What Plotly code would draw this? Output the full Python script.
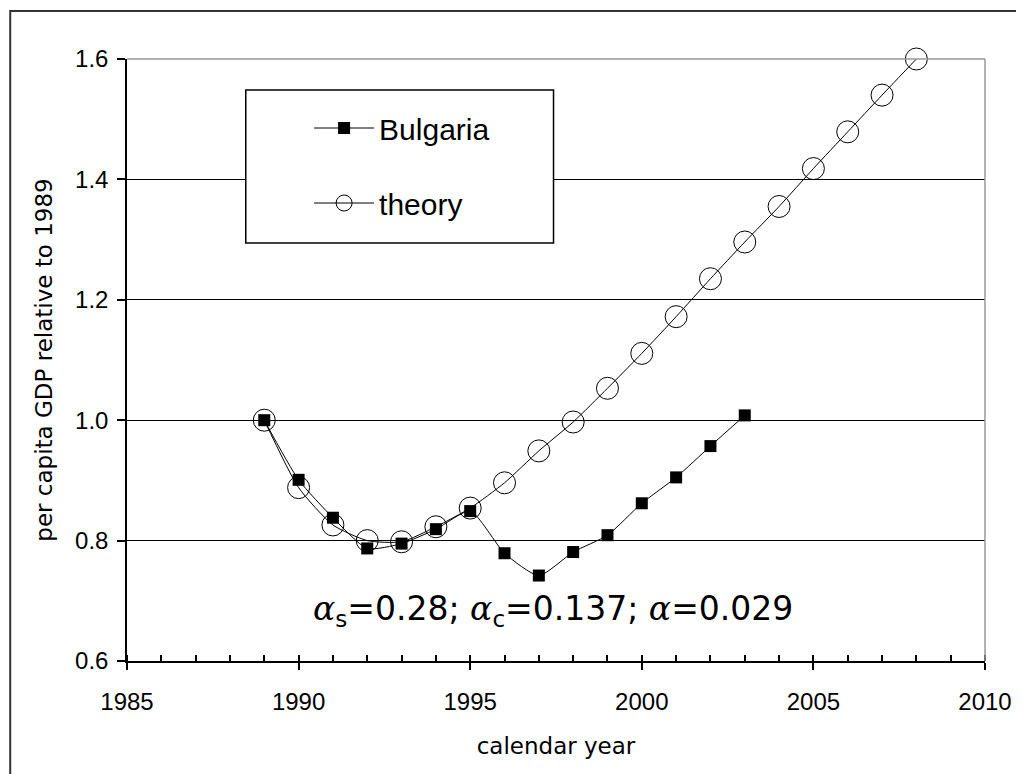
import plotly.graph_objects as go

# ---- data ----
years_bg = [1989, 1990, 1991, 1992, 1993, 1994, 1995, 1996, 1997, 1998, 1999, 2000, 2001, 2002, 2003]
gdp_bg = [1.000, 0.901, 0.838, 0.787, 0.795, 0.819, 0.849, 0.779, 0.742, 0.781, 0.809, 0.862, 0.905, 0.957, 1.008]

years_th = [1989, 1990, 1991, 1992, 1993, 1994, 1995, 1996, 1997, 1998, 1999, 2000,
            2001, 2002, 2003, 2004, 2005, 2006, 2007, 2008]
gdp_th = [1.000, 0.888, 0.826, 0.800, 0.798, 0.823, 0.854, 0.896, 0.949, 0.997, 1.053, 1.111,
          1.172, 1.235, 1.296, 1.355, 1.418, 1.479, 1.540, 1.600]

x_range = [1985, 2010]
y_range = [0.6, 1.6]
y_ticks = [0.6, 0.8, 1.0, 1.2, 1.4, 1.6]

FONT = "Liberation Sans, Arial, sans-serif"
WIDE = "DejaVu Sans, Liberation Sans, sans-serif"

fig = go.Figure()

fig.add_trace(go.Scatter(
    x=years_th, y=gdp_th, name="theory", mode="lines+markers",
    line=dict(color="black", width=1, shape="spline", smoothing=0.6),
    marker=dict(symbol="circle-open", size=22, color="black", line=dict(width=1, color="black")),
    legendgroup="th", legendrank=2, cliponaxis=False,
))
fig.add_trace(go.Scatter(
    x=years_bg, y=gdp_bg, name="Bulgaria", mode="lines+markers",
    line=dict(color="black", width=1, shape="spline", smoothing=0.6),
    marker=dict(symbol="square", size=12, color="black"),
    legendgroup="bg", legendrank=1, cliponaxis=False,
))

# page has an 8px body margin: figure pixel = reference pixel - 8
OFF = 8
W, H = 1024 - OFF, 774 - OFF
L, R, T, B = 127, 994, 59, 661          # plot area in reference pixels
def px(xr):
    return (xr - L) / (R - L)
def py(yr):
    return (B - yr) / (B - T)

fig.update_layout(
    width=W, height=H,
    margin=dict(l=L - OFF, r=W - (R - OFF), t=T - OFF, b=H - (B - OFF), pad=0),
    paper_bgcolor="white", plot_bgcolor="white",
    font=dict(family=FONT, color="black", size=22),
    showlegend=True,
    legend=dict(
        x=px(311), y=py(102), xanchor="left", yanchor="top",
        bgcolor="rgba(0,0,0,0)", borderwidth=0,
        font=dict(size=30, family=FONT, color="black"),
        itemwidth=60, tracegroupgap=33,
    ),
    xaxis=dict(
        range=x_range, tick0=1985, dtick=5, showgrid=False, zeroline=False,
        showline=True, linecolor="black", linewidth=1.5,
        ticks="outside", ticklen=7, tickwidth=1.5, tickcolor="black",
        minor=dict(dtick=1, ticks="inside", ticklen=6, tickcolor="black", tickwidth=1.5),
        tickfont=dict(size=24, family=FONT),
        ticklabelstandoff=11,
        title=dict(text="calendar year", font=dict(size=23, family=WIDE), standoff=24),
    ),
    xaxis2=dict(
        range=x_range, tick0=1985, dtick=5, overlaying="x", anchor="y",
        showgrid=False, zeroline=False, showline=False, showticklabels=False,
        ticks="inside", ticklen=7, tickwidth=1.5, tickcolor="black",
    ),
    yaxis=dict(
        range=y_range, tickvals=y_ticks, tickformat=".1f",
        showgrid=True, gridcolor="black", gridwidth=1.2, zeroline=False,
        showline=True, linecolor="black", linewidth=1.5,
        ticks="outside", ticklen=8, tickwidth=1.5, tickcolor="black",
        ticklabelstandoff=4,
        tickfont=dict(size=24, family=FONT),
        title=dict(text="per capita GDP relative to 1989", font=dict(size=23, family=WIDE), standoff=16),
    ),
    shapes=[
        # gray plot-area border (top, right)
        dict(type="line", xref="paper", yref="paper", x0=0, x1=1, y0=1, y1=1,
             line=dict(color="#999999", width=1.5), layer="above"),
        dict(type="line", xref="paper", yref="paper", x0=1, x1=1, y0=0, y1=1,
             line=dict(color="#999999", width=1.5), layer="above"),
        # legend box
        dict(type="rect", xref="paper", yref="paper", x0=px(247), x1=px(558), y0=py(243), y1=py(90),
             line=dict(color="black", width=1.5), fillcolor="white", layer="above"),
        # outer chart border
        dict(type="rect", xref="paper", yref="paper", x0=px(9), x1=px(1040), y0=py(790), y1=py(11),
             line=dict(color="#333333", width=2), fillcolor="rgba(0,0,0,0)", layer="above"),
    ],
    annotations=[
        dict(text=("<span style=\"font-family:'DejaVu Serif'\"><i>α</i></span><sub>s</sub>=0.28; "
                   "<span style=\"font-family:'DejaVu Serif'\"><i>α</i></span><sub>c</sub>=0.137; "
                   "<span style=\"font-family:'DejaVu Serif'\"><i>α</i></span>=0.029"),
             xref="paper", yref="paper", x=px(557), y=py(610), showarrow=False,
             xanchor="center", yanchor="middle", font=dict(size=33, family=WIDE, color="black")),
    ],
)

fig.write_html("out.html")
